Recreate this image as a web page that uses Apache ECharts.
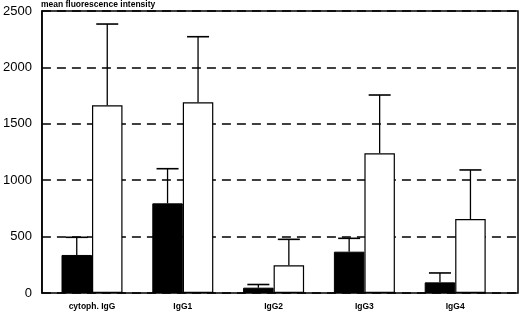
<!DOCTYPE html>
<html>
<head>
<meta charset="utf-8">
<script src="https://cdn.jsdelivr.net/npm/echarts@6/dist/echarts.min.js"></script>
<style>
  html, body { margin: 0; padding: 0; background: #fff; }
  #chart { width: 520px; height: 313px; }
</style>
</head>
<body>
<div id="chart"></div>
<script>
var categories = ['cytoph. IgG', 'IgG1', 'IgG2', 'IgG3', 'IgG4'];
var blackValues = [336, 792, 47, 365, 94];
var blackErrors = [492, 1098, 75, 483, 177];
var whiteValues = [1658, 1684, 245, 1234, 654];
var whiteErrors = [2376, 2264, 474, 1749, 1087];
var yTicks = [0, 500, 1000, 1500, 2000, 2500];

var barW = 30.5;

function errorSeries(name, values, tops, side) {
  var data = values.map(function (v, i) { return [i, v, tops[i]]; });
  return {
    name: name,
    type: 'custom',
    xAxisIndex: 1,
    yAxisIndex: 1,
    z: 5,
    silent: true,
    data: data,
    renderItem: function (params, api) {
      var base = api.coord([api.value(0), api.value(1)]);
      var top = api.coord([api.value(0), api.value(2)]);
      var x = base[0] + side * barW / 2;
      var cap = 11;
      return {
        type: 'group',
        children: [
          { type: 'line', shape: { x1: x, y1: base[1], x2: x, y2: top[1] },
            style: { stroke: '#000', lineWidth: 1.3 } },
          { type: 'line', shape: { x1: x - cap, y1: top[1], x2: x + cap, y2: top[1] },
            style: { stroke: '#000', lineWidth: 1.6 } }
        ]
      };
    }
  };
}

var myChart = echarts.init(document.getElementById('chart'));
var option = {
  animation: false,
  textStyle: { fontFamily: 'Liberation Sans, Arial, sans-serif' },
  grid: [
    { left: 41, right: 2, top: 10, bottom: 20, show: true, borderColor: '#000', borderWidth: 1.5, backgroundColor: '#fff' },
    { left: 46.6, right: 19.4, top: 10, bottom: 20 }
  ],
  xAxis: [
    { gridIndex: 0, type: 'category', data: [], show: false },
    {
      gridIndex: 1, type: 'category', data: categories,
      axisLine: { show: false }, axisTick: { show: false },
      axisLabel: { color: '#000', fontSize: 8.5, fontWeight: 'bold', margin: 9 }
    }
  ],
  yAxis: [
    {
      gridIndex: 0, type: 'value', min: 0, max: 2500, interval: 500,
      name: 'mean fluorescence intensity',
      nameLocation: 'end', nameGap: 2,
      nameTextStyle: { color: '#000', fontSize: 8.5, fontWeight: 'bold', align: 'left', padding: [0, 0, 0, -1] },
      axisLine: { show: true, lineStyle: { color: '#000', width: 1.5 } },
      axisTick: { show: false },
      axisLabel: {
        color: '#000', fontSize: 13, margin: 10,
        formatter: function (v) { return yTicks.indexOf(v) >= 0 ? String(v) : ''; }
      },
      splitLine: { show: true, lineStyle: { color: '#000', width: 1.5, type: [9, 6] } }
    },
    { gridIndex: 1, type: 'value', min: 0, max: 2500, show: false, splitLine: { show: false } }
  ],
  series: [
    {
      name: 'black', type: 'bar', xAxisIndex: 1, yAxisIndex: 1,
      data: blackValues, barWidth: barW, barGap: '0%',
      itemStyle: { color: '#000', borderColor: '#000', borderWidth: 1 }
    },
    {
      name: 'white', type: 'bar', xAxisIndex: 1, yAxisIndex: 1,
      data: whiteValues, barWidth: barW, barGap: '0%',
      itemStyle: { color: '#fff', borderColor: '#000', borderWidth: 1.2 }
    },
    errorSeries('black err', blackValues, blackErrors, -1),
    errorSeries('white err', whiteValues, whiteErrors, 1)
  ]
};
myChart.setOption(option);
window.addEventListener('resize', function () { myChart.resize(); });
</script>
</body>
</html>
